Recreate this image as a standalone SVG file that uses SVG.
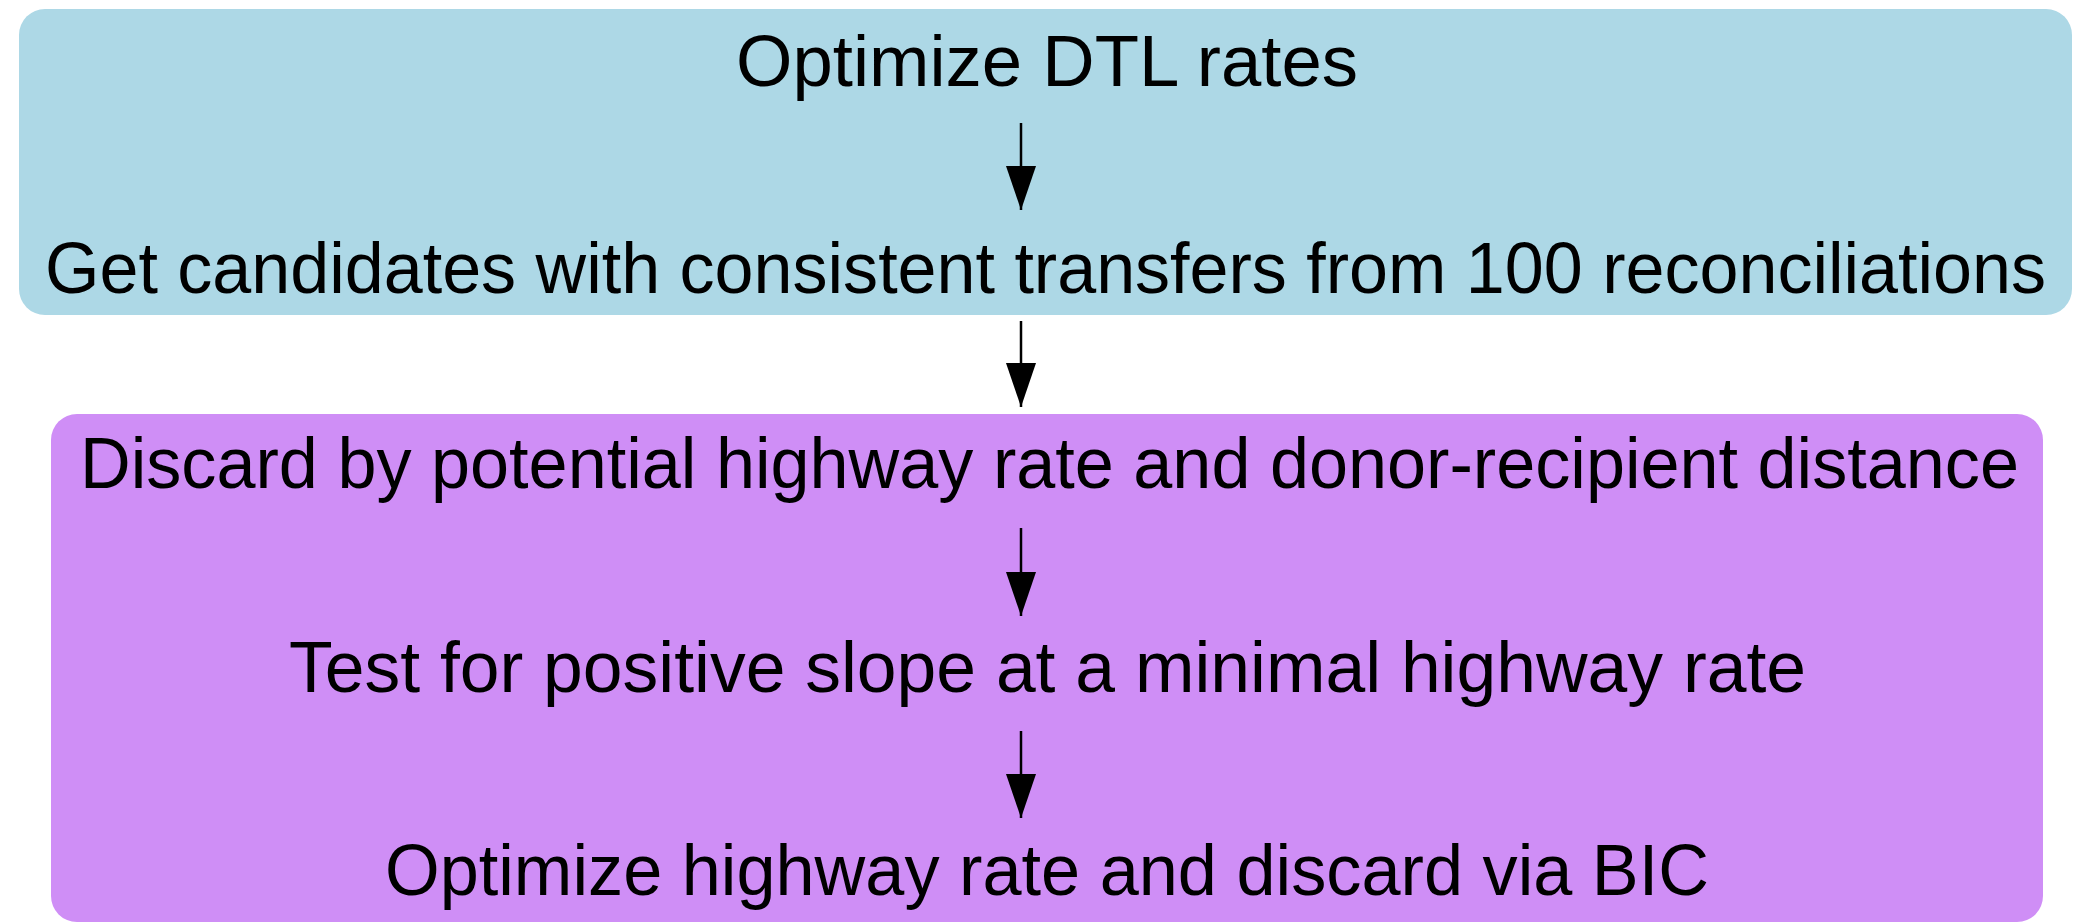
<svg xmlns="http://www.w3.org/2000/svg" width="2073" height="922" viewBox="0 0 2073 922">
<style>
.lbl{font-family:"Liberation Sans","DejaVu Sans",sans-serif;font-size:72px;fill:#000;}
.edge{stroke:#000;stroke-width:2.5;fill:none;}
</style>
<defs>
<marker id="ah" viewBox="0 0 44 30" refX="44" refY="15" markerWidth="44" markerHeight="30" markerUnits="userSpaceOnUse" orient="auto">
<path d="M0,0 L44,15 L0,30 Z" fill="#000"/>
</marker>
</defs>
<rect width="2073" height="922" fill="#fff"/>
<g id="cluster-top">
<rect x="19" y="9" width="2053" height="306" rx="26" ry="26" fill="#add8e6"/>
</g>
<g id="cluster-bottom">
<rect x="51" y="414" width="1992" height="508" rx="26" ry="26" fill="#cf8ef6"/>
</g>
<g id="n1"><text class="lbl" x="736" y="86" textLength="622" lengthAdjust="spacingAndGlyphs">Optimize DTL rates</text></g>
<g id="n2"><text class="lbl" x="45" y="293" textLength="2001" lengthAdjust="spacingAndGlyphs">Get candidates with consistent transfers from 100 reconciliations</text></g>
<g id="n3"><text class="lbl" x="80" y="488" textLength="1939" lengthAdjust="spacingAndGlyphs">Discard by potential highway rate and donor-recipient distance</text></g>
<g id="n4"><text class="lbl" x="289" y="692" textLength="1517" lengthAdjust="spacingAndGlyphs">Test for positive slope at a minimal highway rate</text></g>
<g id="n5"><text class="lbl" x="385" y="895" textLength="1324" lengthAdjust="spacingAndGlyphs">Optimize highway rate and discard via BIC</text></g>
<g id="connectors">
<line class="edge" x1="1021" y1="123" x2="1021" y2="210" marker-end="url(#ah)"/>
<line class="edge" x1="1021" y1="321" x2="1021" y2="407" marker-end="url(#ah)"/>
<line class="edge" x1="1021" y1="528" x2="1021" y2="616" marker-end="url(#ah)"/>
<line class="edge" x1="1021" y1="731" x2="1021" y2="818" marker-end="url(#ah)"/>
</g>
</svg>
